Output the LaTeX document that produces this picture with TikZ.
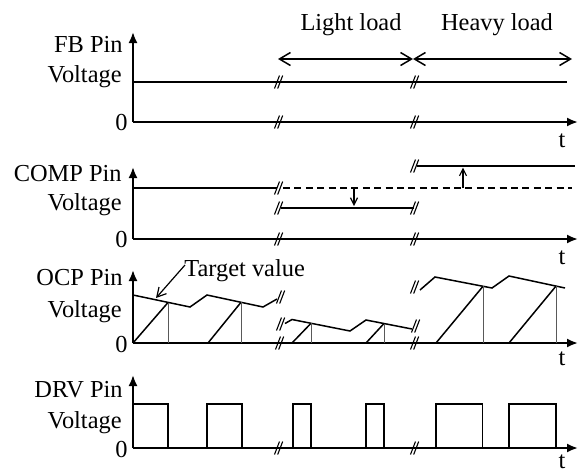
\documentclass[tikz,border=0pt]{standalone}
\usepackage{fontspec}
\setmainfont{Liberation Serif}
\usetikzlibrary{arrows.meta}
\begin{document}
\begin{tikzpicture}[x=0.5pt,y=-0.5pt,
  lbl/.style={font=\fontsize{12.2}{13}\selectfont, inner sep=0pt},
  ylab/.style={lbl, anchor=base east},
  tlab/.style={lbl, anchor=base},
  ax/.style={line width=1pt,-{Latex[length=5.5pt,width=4.5pt]}},
  wave/.style={line width=0.75pt},
  vthin/.style={line width=0.5pt, black!65},
  bigarr/.style={line width=0.75pt,{Straight Barb[length=5.5pt,width=6.5pt]}-{Straight Barb[length=5.5pt,width=6.5pt]}},
  smarr/.style={line width=0.6pt,-{Straight Barb[length=3.5pt,width=3.5pt]}},
  brk/.pic={\draw[line width=0.55pt] (-4.5,6.5)--(0.5,-6.5) (-1.3,6.5)--(3.7,-6.5);}
]
\useasboundingbox (0,0) rectangle (580,473);

% ---------- FB panel ----------
\draw[ax] (133,122) -- (133,32);
\draw[ax] (133,122) -- (578,122);
\draw[wave] (133,82) -- (567,82);
\pic at (279,82) {brk};
\pic at (415,82) {brk};
\pic at (279,122) {brk};
\pic at (415,122) {brk};
\coordinate (la) at (278,59);
\coordinate (lb) at (413,59);
\coordinate (lc) at (572,59);
\draw[bigarr] (la) -- (lb);
\draw[bigarr] (lb) -- (lc);
\node[tlab] (light) at (351,30) {Light load};
\node[tlab] (heavy) at (497,30) {Heavy load};
\node[ylab] (fb1) at (123,52) {FB Pin};
\node[ylab] (fb2) at (122,82) {Voltage};
\node[ylab] (fb0) at (128,130) {0};
\node[tlab] (fbt) at (562,147) {t};

% ---------- COMP panel ----------
\draw[ax] (133,239) -- (133,167);
\draw[ax] (133,239) -- (578,239);
\draw[wave] (133,188) -- (277,188);
\draw[wave, dash pattern=on 3.5pt off 2.2pt] (283,188) -- (572,188);
\draw[wave] (281,208) -- (414,208);
\draw[wave] (417,166) -- (575,166);
\pic at (279,188) {brk};
\pic at (279,208) {brk};
\pic at (415,166) {brk};
\pic at (415,208) {brk};
\pic at (279,239) {brk};
\pic at (415,239) {brk};
\coordinate (da) at (354,188);
\coordinate (db) at (354,206);
\coordinate (ua) at (463,188);
\coordinate (ub) at (463,167.5);
\draw[smarr] (da) -- (db);
\draw[smarr] (ua) -- (ub);
\node[ylab] (cp1) at (122,181) {COMP Pin};
\node[ylab] (cp2) at (122,210) {Voltage};
\node[ylab] (cp0) at (128,247) {0};
\node[tlab] (cpt) at (562,264) {t};

% ---------- OCP panel ----------
\draw[ax] (133,343) -- (133,270);
\draw[ax] (133,343) -- (578,343);
\draw[wave] (133,295) -- (190,307) -- (207,295) -- (263,307) -- (277,299);
\pic at (281,297) {brk};
\draw[wave] (133,343) -- (168,302.5);
\draw[vthin] (168,302.5) -- (168,343);
\draw[wave] (208,343) -- (241,302.3);
\draw[vthin] (241,302.3) -- (241,343);
% light load
\pic at (281,324) {brk};
\draw[wave] (285,323.5) -- (292,319.5) -- (350,331) -- (366,320) -- (412,329);
\pic at (416,326) {brk};
\draw[wave] (292,343) -- (311,323.3);
\draw[vthin] (311,323.3) -- (311,343);
\draw[wave] (366,343) -- (384,323.5);
\draw[vthin] (384,323.5) -- (384,343);
% heavy load
\pic at (415,287) {brk};
\draw[wave] (420,290) -- (435,277) -- (492,288) -- (509,276) -- (565,288);
\draw[wave] (436,343) -- (483,286.3);
\draw[vthin] (483,286.3) -- (483,343);
\draw[wave] (509,343) -- (556,286.1);
\draw[vthin] (556,286.1) -- (556,343);
\pic at (280,343) {brk};
\pic at (415,343) {brk};
\node[lbl, anchor=base west] (tv) at (184,276) {Target value};
\coordinate (tva) at (185,265);
\coordinate (tvb) at (156,298);
\draw[line width=0.6pt, -{Straight Barb[length=4.5pt,width=5pt]}] (tva) -- (tvb);
\node[ylab] (oc1) at (123,285) {OCP Pin};
\node[ylab] (oc2) at (122,317) {Voltage};
\node[ylab] (oc0) at (128,352) {0};
\node[tlab] (oct) at (562,365) {t};

% ---------- DRV panel ----------
\draw[ax] (133,448) -- (133,375);
\draw[ax] (133,448) -- (578,448);
\draw[wave] (133,404) -- (168,404) -- (168,448);
\draw[wave] (207,448) -- (207,404) -- (242,404) -- (242,448);
\draw[wave] (293,448) -- (293,404) -- (311,404) -- (311,448);
\draw[wave] (366,448) -- (366,404) -- (384,404) -- (384,448);
\draw[wave] (436,448) -- (436,404) -- (482.5,404) -- (482.5,448);
\draw[wave] (509,448) -- (509,404) -- (556,404) -- (556,448);
\pic at (279,448) {brk};
\pic at (415,448) {brk};
\node[ylab] (dr1) at (123,397) {DRV Pin};
\node[ylab] (dr2) at (122,428) {Voltage};
\node[ylab] (dr0) at (128,457) {0};
\node[tlab] (drt) at (562,468) {t};
\end{tikzpicture}
\end{document}
